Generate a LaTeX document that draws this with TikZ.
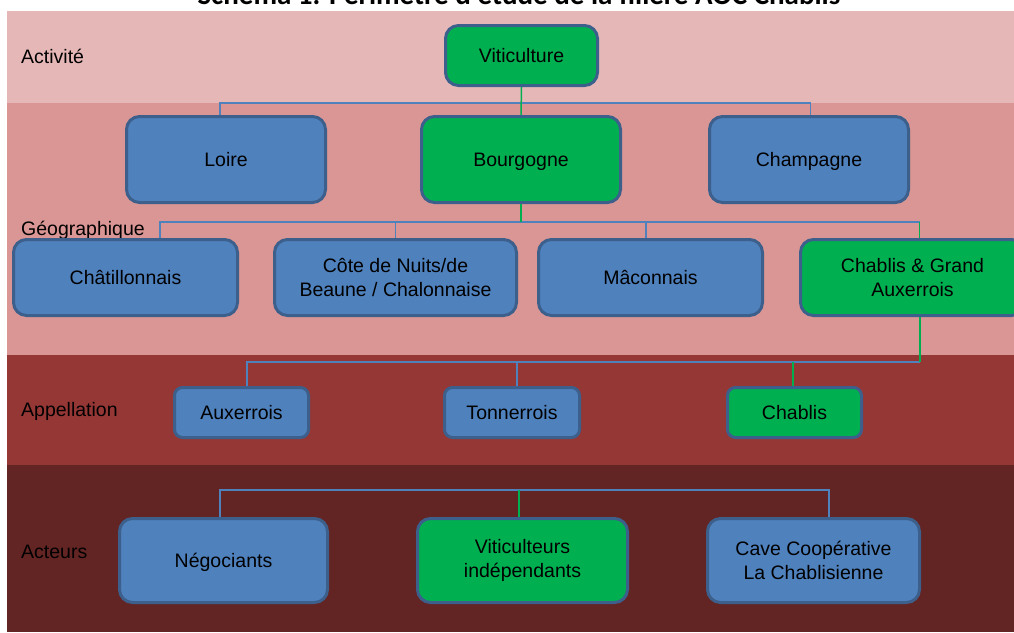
\documentclass[tikz,border=0pt]{standalone}
\usepackage{fontspec}
\setmainfont{Liberation Sans}
\newfontfamily\titlefont{Carlito}
\definecolor{bandA}{HTML}{E5B8B7}
\definecolor{bandB}{HTML}{D99694}
\definecolor{bandC}{HTML}{953735}
\definecolor{bandD}{HTML}{632523}
\definecolor{boxblue}{HTML}{4F81BD}
\definecolor{boxline}{HTML}{3D5F8C}
\definecolor{boxgreen}{HTML}{00B050}

\begin{document}
\begin{tikzpicture}[x=1pt,y=-1pt]

    \tikzset{
      box/.style={
        draw=boxline,
        line width=3pt,
        rounded corners=13pt,
        align=center,
        inner sep=0pt,
        text=black,
        font=\fontsize{19.5}{24}\selectfont,
      },
      bluebox/.style={box, fill=boxblue},
      greenbox/.style={box, fill=boxgreen},
      smallbox/.style={rounded corners=8pt},
      oneline/.style={text height=14pt, text depth=0pt},
      bandlabel/.style={anchor=base west, inner sep=0pt, font=\fontsize{19.5}{24}\selectfont},
      bline/.style={draw=boxblue, line width=1.5pt},
      gline/.style={draw=boxgreen, line width=1.5pt},
    }
    \useasboundingbox (0,0) rectangle (1014,632);
    \clip (0,0) rectangle (1014,632);

    % bands
    \fill[bandA] (7,11) rectangle (1014,103);
    \fill[bandB] (7,103) rectangle (1014,355);
    \fill[bandC] (7,355) rectangle (1014,465);
    \fill[bandD] (7,465) rectangle (1014,632);

    \node[anchor=base, inner sep=0pt, font=\titlefont\bfseries\fontsize{29}{34}\selectfont] (titre) at (519,4.5)
      {Schéma 1. Périmètre d'étude de la filière AOC Chablis};

    \node[bandlabel] (activite) at (21,63.3) {Activité};
    \node[bandlabel] (geo) at (21,235.5) {Géographique};
    \node[bandlabel] (appel) at (21,416) {Appellation};
    \node[bandlabel] (acteurs) at (21,558.5) {Acteurs};

    % bus lines
    \coordinate (busA) at (0,103);
    \coordinate (busB) at (0,222);
    \coordinate (busC) at (0,362);
    \coordinate (busD) at (0,490);

    \node[greenbox, oneline, minimum width=152pt, minimum height=60pt] (viti) at (521.5,55.5) {Viticulture};

    \node[bluebox, oneline, minimum width=199pt, minimum height=86pt] (loire) at (226,159.5) {Loire};
    \node[greenbox, oneline, minimum width=199pt, minimum height=86pt] (bourg) at (521,159.5) {Bourgogne};
    \node[bluebox, oneline, minimum width=199pt, minimum height=86pt] (champ) at (809,159.5) {Champagne};

    \node[bluebox, oneline, minimum width=224pt, minimum height=76pt] (chat) at (125.5,277.5) {Châtillonnais};
    \node[bluebox, minimum width=242pt, minimum height=76pt] (cote) at (395.5,277.5) {Côte de Nuits/de\\Beaune / Chalonnaise};
    \node[bluebox, oneline, minimum width=224pt, minimum height=76pt] (macon) at (650.5,277.5) {Mâconnais};
    \node[greenbox, minimum width=224pt, minimum height=76pt] (chablisga) at (912.5,277.5) {Chablis \& Grand\\Auxerrois};

    \node[bluebox, smallbox, oneline, minimum width=134pt, minimum height=50pt] (auxe) at (241.5,412.5) {Auxerrois};
    \node[bluebox, smallbox, oneline, minimum width=135pt, minimum height=50pt] (tonn) at (512,412.5) {Tonnerrois};
    \node[greenbox, smallbox, oneline, minimum width=134pt, minimum height=50pt] (chab) at (794.5,412.5) {Chablis};

    \node[bluebox, oneline, minimum width=208pt, minimum height=84pt] (nego) at (223.5,560.5) {Négociants};
    \node[greenbox, minimum width=210pt, minimum height=84pt] (vitind) at (522.5,560.5) {Viticulteurs\\indépendants};
    \node[bluebox, minimum width=212pt, minimum height=84pt] (cave) at (813.5,560.5) {Cave Coopérative\\La Chablisienne};

    % drop points
    \coordinate (loireIn) at ([xshift=-6pt]loire.north);
    \coordinate (champIn) at ([xshift=1.5pt]champ.north);
    \coordinate (chatIn) at ([xshift=34.5pt]chat.north);
    \coordinate (maconIn) at ([xshift=-4.5pt]macon.north);
    \coordinate (chablisgaIn) at ([xshift=7pt]chablisga.north);
    \coordinate (chablisgaOut) at ([xshift=7.5pt]chablisga.south);
    \coordinate (auxeIn) at ([xshift=5.5pt]auxe.north);
    \coordinate (tonnIn) at ([xshift=5pt]tonn.north);
    \coordinate (chabIn) at ([xshift=-1.5pt]chab.north);
    \coordinate (negoIn) at ([xshift=-3.5pt]nego.north);
    \coordinate (vitindIn) at ([xshift=-3.5pt]vitind.north);
    \coordinate (caveIn) at ([xshift=15.5pt]cave.north);

    % Activite -> Geographique
    \draw[bline] (loireIn) -- (loireIn |- busA) -- (champIn |- busA) -- (champIn);
    \draw[gline] (viti.south) -- (bourg.north);

    % Geographique
    \draw[bline] (chatIn) -- (chatIn |- busB) -- (chablisgaIn |- busB);
    \draw[bline] (cote.north) -- (cote.north |- busB);
    \draw[bline] (maconIn) -- (maconIn |- busB);
    \draw[gline] (bourg.south) -- (bourg.south |- busB);
    \draw[gline] (chablisgaIn |- busB) -- (chablisgaIn);

    % Appellation
    \draw[bline] (auxeIn) -- (auxeIn |- busC) -- (chablisgaOut |- busC);
    \draw[bline] (tonnIn) -- (tonnIn |- busC);
    \draw[gline] (chablisgaOut) -- (chablisgaOut |- busC);
    \draw[gline] (chabIn |- busC) -- (chabIn);

    % Acteurs
    \draw[bline] (negoIn) -- (negoIn |- busD) -- (caveIn |- busD) -- (caveIn);
    \draw[gline] (vitindIn |- busD) -- (vitindIn);

\end{tikzpicture}
\end{document}
